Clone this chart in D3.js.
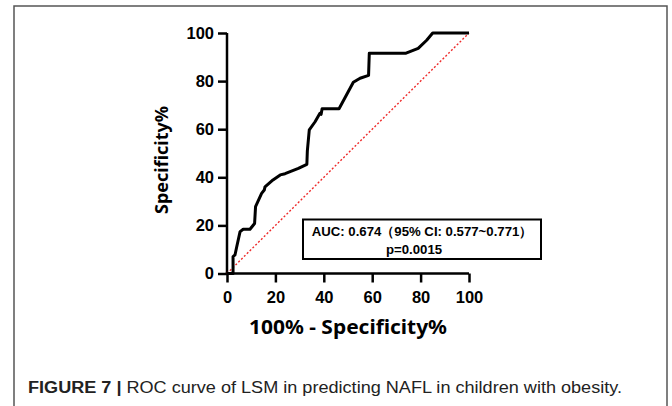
<!DOCTYPE html>
<html><head><meta charset="utf-8">
<script src="https://cdn.jsdelivr.net/npm/d3@7"></script>
<style>html,body{margin:0;padding:0;background:#fff;}svg{display:block;}</style>
</head><body>
<script>
// ROC curve points: x = 100% - Specificity%, y = sensitivity (labelled "Specificity%")
const fpr = [0, 2.5, 2.5, 3.3, 4.0, 5.4, 6.7, 9.5, 11.4, 11.8, 14.3, 15.4, 15.7, 19.0, 22.0, 24.0, 29.5, 33.0, 33.2, 34.0, 36.4, 38.4, 38.9, 39.3, 46.3, 52.2, 55.0, 58.5, 58.8, 74.0, 79.0, 82.5, 85.0, 100];
const tpr = [0, 0, 7.0, 7.7, 11.0, 17.4, 18.4, 18.4, 20.8, 27.8, 33.3, 34.7, 36.0, 38.9, 41.0, 41.5, 43.7, 45.4, 51.0, 59.7, 63.1, 66.6, 66.2, 68.5, 68.5, 79.5, 81.2, 82.4, 91.6, 91.6, 93.6, 97.0, 100, 100];
const refX = [0, 100];
const refY = [0, 100];
const xTicks = [0, 20, 40, 60, 80, 100];
const yTicks = [0, 20, 40, 60, 80, 100];
const xTitle = "100% - Specificity%";
const yTitle = "Specificity%";
const annotLines = ["AUC: 0.674（95% CI: 0.577~0.771）", "p=0.0015"];
const captionBold = "FIGURE 7 | ";
const captionText = "ROC curve of LSM in predicting NAFL in children with obesity.";

const W = 672, H = 406;
const svg = d3.select("body").append("svg").attr("width", W).attr("height", H);

// frame
svg.append("path")
  .attr("d", `M14,${H} L14,6 L667,6 L667,${H}`)
  .attr("fill", "none").attr("stroke", "#555").attr("stroke-width", 1.5);

const x = d3.scaleLinear().domain([0, 100]).range([227, 469]);
const y = d3.scaleLinear().domain([0, 100]).range([273.5, 33]);

const tickFont = "'Liberation Sans', Arial, sans-serif";
const titleFont = "'Noto Sans', 'Open Sans', sans-serif";

// x axis
const gx = svg.append("g").attr("transform", `translate(0,${y(0)})`)
  .call(d3.axisBottom(x).tickValues(xTicks).tickSize(9).tickSizeOuter(0).tickPadding(9));
// y axis
const gy = svg.append("g").attr("transform", `translate(${x(0)},0)`)
  .call(d3.axisLeft(y).tickValues(yTicks).tickSize(9).tickSizeOuter(0).tickPadding(4));

[gx, gy].forEach(g => {
  g.select(".domain").attr("stroke", "#000").attr("stroke-width", 2.5);
  g.selectAll(".tick line").attr("stroke", "#000").attr("stroke-width", 2.5);
  g.selectAll(".tick text").attr("fill", "#000")
    .style("font-family", tickFont).style("font-weight", "bold").style("font-size", "16.5px");
});
gx.select(".domain").attr("d", `M${x(0) - 1.25},0H${x(100)}`);
gy.select(".domain").attr("d", `M0,${y(0) + 1.25}V${y(100)}`);

// reference diagonal
svg.append("line")
  .attr("x1", x(refX[0])).attr("y1", y(refY[0]))
  .attr("x2", x(refX[1])).attr("y2", y(refY[1]))
  .attr("stroke", "#ee2a2a").attr("stroke-width", 1.4).attr("stroke-dasharray", "2,2");

// ROC curve
const pts = fpr.map((v, i) => [v, tpr[i]]);
svg.append("path")
  .datum(pts)
  .attr("d", d3.line().x(d => x(d[0])).y(d => y(d[1])))
  .attr("fill", "none").attr("stroke", "#000").attr("stroke-width", 3)
  .attr("stroke-linejoin", "round");

// axis titles
svg.append("text")
  .attr("transform", `translate(168,160) rotate(-90)`)
  .attr("text-anchor", "middle")
  .style("font-family", titleFont).style("font-weight", "bold").style("font-size", "18px")
  .text(yTitle);
svg.append("text")
  .attr("x", 348).attr("y", 334)
  .attr("text-anchor", "middle")
  .attr("textLength", 198).attr("lengthAdjust", "spacingAndGlyphs")
  .style("font-family", titleFont).style("font-weight", "bold").style("font-size", "19.5px")
  .text(xTitle);

// annotation box
svg.append("rect")
  .attr("x", 303).attr("y", 219.5).attr("width", 238).attr("height", 39.5)
  .attr("fill", "#fff").attr("stroke", "#000").attr("stroke-width", 2);
svg.append("text")
  .attr("x", 422).attr("y", 235.5).attr("text-anchor", "middle")
  .style("font-family", tickFont).style("font-weight", "bold").style("font-size", "13.2px")
  .text(annotLines[0]);
svg.append("text")
  .attr("x", 414).attr("y", 253.5).attr("text-anchor", "middle")
  .style("font-family", tickFont).style("font-weight", "bold").style("font-size", "13.2px")
  .text(annotLines[1]);

// caption
const cap = svg.append("text")
  .attr("x", 28).attr("y", 393)
  .attr("textLength", 594).attr("lengthAdjust", "spacingAndGlyphs")
  .style("font-family", tickFont).style("font-size", "16px").attr("fill", "#222");
cap.append("tspan").style("font-weight", "bold").text(captionBold);
cap.append("tspan").text(captionText);
</script>
</body></html>
